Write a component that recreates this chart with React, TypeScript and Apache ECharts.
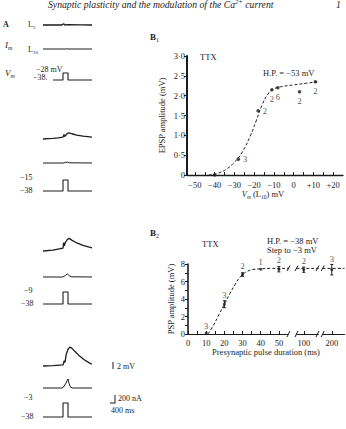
import React, { useEffect, useRef } from 'react';
import * as echarts from 'echarts';

const FONT = '"Liberation Serif", "DejaVu Serif", serif';
const INK = '#1c1c1c';

// ---------- Panel B1 : EPSP amplitude vs Vm (L10) ----------
const b1Vm = [-40, -28, -18, -11, -8, 3, 11];
const b1Amp = [0.0, 0.4, 1.62, 2.15, 2.2, 2.1, 2.35];
const b1N = ['', '3', '2', '2', '6', '2', '2'];
const b1CurveVm = [-43, -38, -34, -30, -26, -22, -19, -16, -13, -10, -6, 0, 6, 12];
const b1CurveAmp = [0, 0.05, 0.15, 0.32, 0.58, 0.98, 1.36, 1.76, 2.04, 2.17, 2.23, 2.27, 2.31, 2.35];
const b1XLabels = [-50, -40, -30, -20, -10, 0, 10, 20];
const b1XTicks = [-50, -45, -40, -35, -30, -25, -20, -15, -10, -5, 0, 5, 10, 15, 20];

// ---------- Panel B2 : PSP amplitude vs presynaptic pulse duration ----------
const b2Dur = [10, 20, 30, 40, 50, 100, 200];
const b2Amp = [0.1, 3.4, 6.8, 7.4, 7.4, 7.35, 7.35];
const b2Err = [0, 0.4, 0.2, 0, 0.3, 0.3, 0.6];
const b2N = ['3', '3', '2', '1', '2', '2', '3'];
const b2CurveDur = [11, 14, 17, 20, 23, 26, 29, 32, 35, 40, 45, 55, 96, 108, 195, 207];
const b2CurveAmp = [0, 1.0, 2.2, 3.4, 4.6, 5.7, 6.6, 7.1, 7.35, 7.45, 7.5, 7.5, 7.5, 7.5, 7.5, 7.5];
const b2Seg1Ticks = [0, 5, 10, 15, 20, 25, 30, 35, 40, 45, 50];
const b2Seg1Labels = [0, 10, 20, 30, 40, 50];

// ---------- Panel A : traces (t in ms) ----------
const l5Group1 = [[0, 0], [800, 0.05], [1500, 0], [1650, 0.35], [1750, 0], [2000, 0.1], [3000, 0.05], [3920, 0]];
const l5Group2 = [[0, 0], [400, 0.1], [800, 0.2], [1200, 0.35], [1600, 0.55], [1680, 1.3], [1720, 0.7], [1800, 1.0], [1950, 1.6], [2080, 1.75], [2300, 1.5], [2700, 1.1], [3200, 0.8], [3920, 0.55]];
const l5Group3 = [[0, 0], [800, 0.25], [1600, 0.8], [1650, 2.4], [1700, 1.5], [1800, 2.5], [1950, 3.3], [2100, 3.6], [2300, 3.1], [2700, 2.3], [3200, 1.6], [3920, 0.9]];
const l5Group4 = [[0, 0], [800, 0.1], [1600, 0.3], [1700, 1.5], [1760, 1.0], [1850, 3.2], [2000, 4.8], [2150, 5.4], [2300, 5.1], [2600, 4.0], [2900, 2.9], [3300, 1.8], [3700, 0.9], [3920, 0.5]];
const imGroup1 = [[0, 0], [1800, 0], [1900, 6], [2000, 0], [3920, 0]];
const imGroup2 = [[0, 0], [1600, 0], [1800, 15], [1950, 20], [2100, 5], [3920, 0]];
const imGroup3 = [[0, 0], [1600, 0], [1800, 40], [1950, 80], [2100, 30], [2300, 5], [3920, 0]];
const imGroup4 = [[0, 0], [1500, 0], [1600, 10], [1800, 100], [1950, 200], [2000, 225], [2080, 120], [2200, 20], [2400, 0], [3920, 0]];
const stepMv = [-28, -15, -9, -3];
const holdMv = -38;
const pulseOn = 1600;
const pulseOff = 2000;
const traceStart = [800, 0, 0, 0];
const traceEnd = 3920;

// layout (pixels) for the panel A rows
const l5Base = [25, 139, 251, 366];
const imBase = [49, 163, 277, 388];
const vmTop = [73, 180, 292, 403];
const vmBottom = [80, 191, 304, 417];

const fmtDot = (v: number) => (v === 0 ? '0' : v.toFixed(1).replace('.', '\u00b7'));
const fmtSigned = (v: number) => (v < 0 ? '\u2212' + Math.abs(v) : v > 0 ? '+' + v : '0');

function txt(x: number, y: number, text: string, size = 8, extra: any = {}) {
  return {
    type: 'text',
    x,
    y,
    silent: true,
    style: {
      text,
      fill: INK,
      fontSize: size,
      fontFamily: FONT,
      align: 'left',
      verticalAlign: 'middle',
      ...extra,
    },
  };
}
function ln(x1: number, y1: number, x2: number, y2: number, w = 1) {
  return { type: 'line', silent: true, shape: { x1, y1, x2, y2 }, style: { stroke: INK, lineWidth: w } };
}
const richSub = (size: number) => ({
  n: { fontSize: size, fontFamily: FONT, fill: INK, lineHeight: size + 3 },
  i: { fontSize: size, fontFamily: FONT, fill: INK, fontStyle: 'italic', lineHeight: size + 3 },
  b: { fontSize: size, fontFamily: FONT, fill: INK, fontWeight: 'bold', lineHeight: size + 3 },
  s: { fontSize: size - 3, fontFamily: FONT, fill: INK, lineHeight: size - 3, verticalAlign: 'bottom' },
  si: { fontSize: size - 3, fontFamily: FONT, fill: INK, fontStyle: 'italic', lineHeight: size - 3, verticalAlign: 'bottom' },
  sup: { fontSize: size - 3, fontFamily: FONT, fill: INK, fontStyle: 'italic', lineHeight: size - 3, verticalAlign: 'top' },
});

function buildOption() {
  const grids: any[] = [
    { left: 187, top: 56, width: 156, height: 119 },
    { left: 188, top: 264, width: 100, height: 70 },
    { left: 296.5, top: 264, width: 21.8, height: 70 },
    { left: 322.7, top: 264, width: 21.8, height: 70 },
  ];
  const FS = 8.5;
  const axisText = { fontSize: FS, color: INK, fontFamily: FONT };
  const ptLabel = { fontSize: FS, color: INK, fontFamily: FONT, textBorderWidth: 0 };
  const xAxes: any[] = [
    {
      gridIndex: 0, type: 'value', min: -54, max: 25,
      axisLine: { onZero: false, lineStyle: { color: INK, width: 1.3 } },
      axisTick: { show: true, inside: true, length: 3, customValues: b1XTicks, lineStyle: { color: INK } },
      axisLabel: { ...axisText, customValues: b1XLabels, formatter: fmtSigned, margin: 5 },
      splitLine: { show: false },
    },
  ];
  const segs = [
    { min: 0, max: 55, ticks: b2Seg1Ticks, labels: b2Seg1Labels },
    { min: 96, max: 108, ticks: [100], labels: [100] },
    { min: 195, max: 207, ticks: [200], labels: [200] },
  ];
  segs.forEach((s, k) => {
    xAxes.push({
      gridIndex: k + 1, type: 'value', min: s.min, max: s.max,
      axisLine: { onZero: false, lineStyle: { color: INK, width: 1.2 } },
      axisTick: { show: true, inside: true, length: 3, customValues: s.ticks, lineStyle: { color: INK } },
      axisLabel: { ...axisText, customValues: s.labels, margin: 4 },
      splitLine: { show: false },
    });
  });
  const yAxes: any[] = [
    {
      gridIndex: 0, type: 'value', min: 0, max: 3, interval: 0.5,
      axisLine: { show: true, onZero: false, lineStyle: { color: INK, width: 2 } },
      axisTick: { show: true, length: 3, lineStyle: { color: INK } },
      axisLabel: { ...axisText, formatter: fmtDot, margin: 2 },
      splitLine: { show: false },
      name: 'EPSP amplitude (mV)', nameLocation: 'middle', nameGap: 21, nameRotate: 90,
      nameTextStyle: { fontSize: FS, color: INK, fontFamily: FONT },
    },
    {
      gridIndex: 1, type: 'value', min: 0, max: 8, interval: 1,
      axisLine: { show: true, onZero: false, lineStyle: { color: INK, width: 1.6 } },
      axisTick: { show: true, length: 3, lineStyle: { color: INK } },
      axisLabel: { ...axisText, formatter: (v: number) => (v % 2 === 0 ? String(v) : ''), margin: 3 },
      splitLine: { show: false },
      name: 'PSP amplitude (mV)', nameLocation: 'middle', nameGap: 13, nameRotate: 90,
      nameTextStyle: { fontSize: FS, color: INK, fontFamily: FONT },
    },
    { gridIndex: 2, type: 'value', min: 0, max: 8, show: false },
    { gridIndex: 3, type: 'value', min: 0, max: 8, show: false },
  ];

  const series: any[] = [];
  series.push({
    type: 'line', xAxisIndex: 0, yAxisIndex: 0, smooth: true, symbol: 'none',
    data: b1CurveVm.map((x, i) => [x, b1CurveAmp[i]]),
    lineStyle: { color: INK, width: 1, type: [3, 2] },
  });
  const b1Pos = ['right', 'right', 'right', 'bottom', 'bottom', 'bottom', 'bottom'];
  series.push({
    type: 'scatter', xAxisIndex: 0, yAxisIndex: 0, symbol: 'circle', symbolSize: 3.5,
    itemStyle: { color: INK },
    label: { show: true, ...ptLabel, distance: 3 },
    data: b1Vm.map((x, i) => ({
      value: [x, b1Amp[i]],
      label: { show: !!b1N[i], formatter: b1N[i], position: b1Pos[i], ...ptLabel },
    })),
  });

  segs.forEach((s, k) => {
    const gi = k + 1;
    series.push({
      type: 'line', xAxisIndex: gi, yAxisIndex: gi, smooth: 0.4, symbol: 'none', clip: true,
      data: b2CurveDur.map((x, i) => [x, b2CurveAmp[i]]),
      lineStyle: { color: INK, width: 1, type: [3, 2] },
    });
    const idx = b2Dur.map((_, i) => i).filter((i) => b2Dur[i] >= s.min && b2Dur[i] <= s.max);
    series.push({
      type: 'scatter', xAxisIndex: gi, yAxisIndex: gi, symbol: 'circle', symbolSize: 3,
      itemStyle: { color: INK },
      label: { show: true, ...ptLabel, position: 'top' },
      data: idx.map((i) => ({
        value: [b2Dur[i], b2Amp[i]],
        label: { show: true, formatter: b2N[i], position: 'top', distance: 1 + b2Err[i] * 6, ...ptLabel },
      })),
    });
    series.push({
      type: 'custom', xAxisIndex: gi, yAxisIndex: gi,
      data: idx.filter((i) => b2Err[i] > 0).map((i) => [b2Dur[i], b2Amp[i], b2Err[i]]),
      renderItem: (_p: any, api: any) => {
        const x = api.value(0), y = api.value(1), e = api.value(2);
        const a = api.coord([x, y + e]);
        const b = api.coord([x, y - e]);
        const st = { stroke: INK, lineWidth: 1 };
        return {
          type: 'group',
          children: [
            { type: 'line', shape: { x1: a[0], y1: a[1], x2: b[0], y2: b[1] }, style: st },
            { type: 'line', shape: { x1: a[0] - 1.5, y1: a[1], x2: a[0] + 1.5, y2: a[1] }, style: st },
            { type: 'line', shape: { x1: b[0] - 1.5, y1: b[1], x2: b[0] + 1.5, y2: b[1] }, style: st },
          ],
        };
      },
    });
  });

  // Panel A traces
  const l5 = [l5Group1, l5Group2, l5Group3, l5Group4];
  const im = [imGroup1, imGroup2, imGroup3, imGroup4];
  for (let g = 0; g < 4; g++) {
    const rows = [
      { top: l5Base[g] - 21, height: 24.5, min: -1, max: 6, data: l5[g], w: 1.3 },
      { top: imBase[g] - 12, height: 12.8, min: -20, max: 300, data: im[g], w: 1 },
      {
        top: vmTop[g], height: vmBottom[g] - vmTop[g], min: holdMv, max: stepMv[g], w: 1.1,
        data: [[traceStart[g], holdMv], [pulseOn, holdMv], [pulseOn, stepMv[g]], [pulseOff, stepMv[g]], [pulseOff, holdMv], [traceEnd, holdMv]],
      },
    ];
    rows.forEach((r) => {
      const gi = grids.length;
      grids.push({ left: 43, width: 49, top: r.top, height: r.height });
      xAxes.push({ gridIndex: gi, type: 'value', min: 0, max: traceEnd, show: false });
      yAxes.push({ gridIndex: gi, type: 'value', min: r.min, max: r.max, show: false });
      series.push({
        type: 'line', xAxisIndex: gi, yAxisIndex: gi, symbol: 'none', clip: false,
        data: r.data, lineStyle: { color: INK, width: r.w },
      });
    });
  }
  grids.forEach((g) => { g.outerBoundsMode = 'none'; g.containLabel = false; });

  const R8 = richSub(8);
  const R85 = richSub(8.5);
  const R9 = richSub(9);
  const elements: any[] = [
    // running title
    {
      type: 'text', x: 48, y: 4, silent: true,
      style: {
        text: '{i|Synaptic plasticity and the modulation of the Ca}{sup|2+}{i| current}',
        rich: richSub(9.7), verticalAlign: 'middle', align: 'left',
      },
    },
    txt(336, 4, '1', 9.7, { fontStyle: 'italic' }),
    // panel A labels
    txt(3, 24, 'A', 8, { fontWeight: 'bold' }),
    { type: 'text', x: 28, y: 24, silent: true, style: { text: '{n|L}{s|5}', rich: R8, verticalAlign: 'middle' } },
    { type: 'text', x: 5, y: 45, silent: true, style: { text: '{i|I}{si|m}', rich: R9, verticalAlign: 'middle' } },
    { type: 'text', x: 28, y: 49, silent: true, style: { text: '{n|L}{s|10}', rich: R8, verticalAlign: 'middle' } },
    { type: 'text', x: 5, y: 73, silent: true, style: { text: '{i|V}{si|m}', rich: R9, verticalAlign: 'middle' } },
    txt(36, 69, '\u221228 mV', 8),
    txt(33, 77, '\u221238.', 8),
    txt(20, 177, '\u221215', 8),
    txt(20, 190, '\u221238', 8),
    txt(24, 290, '\u22129', 8),
    txt(21, 303, '\u221238', 8),
    txt(24, 397, '\u22123', 8),
    txt(21, 416, '\u221238', 8),
    ln(113, 362, 113, 369, 1),
    txt(117, 366, '2 mV', 8),
    ln(115, 395, 115, 403, 1),
    ln(110, 403, 115.5, 403, 1),
    txt(118, 398, '200 nA', 8),
    txt(111, 410, '400 ms', 8),
    // panel B labels
    { type: 'text', x: 150, y: 37, silent: true, style: { text: '{b|B}{s|1}', rich: R9, verticalAlign: 'middle' } },
    { type: 'text', x: 150, y: 233, silent: true, style: { text: '{b|B}{s|2}', rich: R9, verticalAlign: 'middle' } },
    txt(200, 57, 'TTX', FS),
    txt(263, 73, 'H.P. = \u221253 mV', FS),
    {
      type: 'text', x: 263, y: 194, silent: true,
      style: { text: '{i|V}{si|m}{n| (L}{s|10}{n|) mV}', rich: R85, verticalAlign: 'middle', align: 'center' },
    },
    txt(202, 244, 'TTX', FS),
    txt(267, 241, 'H.P. = \u221238 mV', FS),
    txt(267, 250, 'Step to \u22123 mV', FS),
    txt(266, 352, 'Presynaptic pulse duration (ms)', FS, { align: 'center' }),
  ];
  // axis and curve break marks for B2
  const breakXs = [288.5, 296.5, 317.5, 322.7];
  breakXs.forEach((bx) => {
    elements.push(ln(bx - 1.5, 337, bx + 1.5, 331, 1));
    elements.push(ln(bx - 1.5, 271, bx + 1.5, 265.5, 1));
  });

  return {
    animation: false,
    backgroundColor: '#ffffff',
    textStyle: { fontFamily: FONT },
    grid: grids,
    xAxis: xAxes,
    yAxis: yAxes,
    series,
    graphic: { elements },
  };
}

export default function App() {
  const ref = useRef<HTMLDivElement>(null);
  useEffect(() => {
    if (!ref.current) return;
    const chart = echarts.init(ref.current, undefined, { renderer: 'svg' });
    chart.setOption(buildOption() as any);
    return () => chart.dispose();
  }, []);
  return (
    <div
      ref={ref}
      style={{ position: 'absolute', left: 0, top: 0, width: 346, height: 429, background: '#fff' }}
    />
  );
}
